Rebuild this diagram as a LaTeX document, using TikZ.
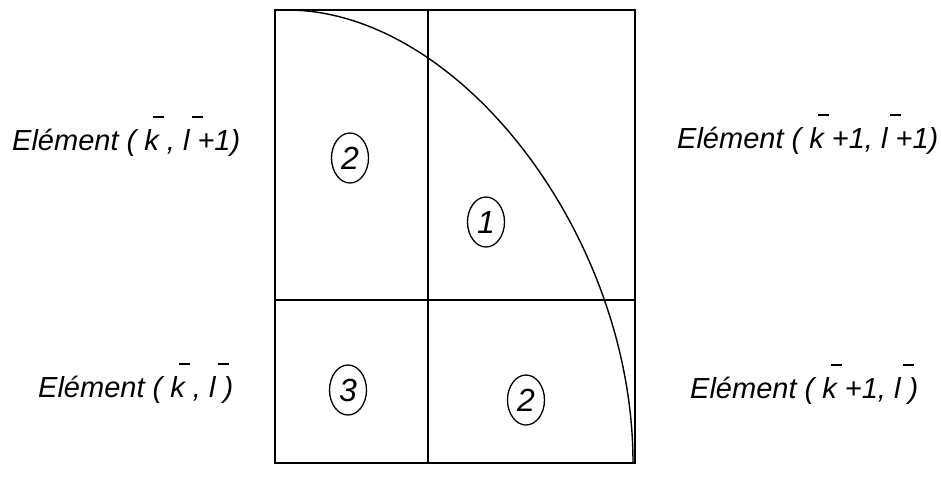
\documentclass[tikz,border=0pt]{standalone}
\usepackage{fontspec}
\setmainfont{Liberation Sans}
\usetikzlibrary{shapes.geometric}
\newcommand\obar[1]{\rlap{\hspace{0.3em}\raisebox{1.12em}{\rule{0.38em}{0.065em}}}#1}
\tikzset{
  frame/.style={line width=1.8pt},
  grid/.style={line width=1.5pt},
  arcline/.style={line width=1.4pt},
  circnum/.style={draw, ellipse, line width=1.3pt, minimum width=37pt, minimum height=50pt, inner sep=0pt,
    font=\fontsize{32}{32}\selectfont\itshape},
  elem/.style={anchor=base west, inner sep=0pt, font=\fontsize{29}{30}\selectfont\itshape}
}
\begin{document}
\begin{tikzpicture}[x=1pt,y=-1pt]
\useasboundingbox[fill=white] (0,0) rectangle (941,493);
% grid
\draw[frame] (275,10) rectangle (635,463);
\draw[grid] (428,10) -- (428,463);
\draw[grid] (275,300) -- (635,300);
% arc
\draw[arcline] (287,10) .. controls (460,10) and (633,236.5) .. (633,463);
% numbers
\node[circnum] (c2a) at (350,158) {2};
\node[circnum] (c1) at (486,222) {1};
\node[circnum] (c3) at (348,390) {3};
\node[circnum] (c2b) at (526,400) {2};
% labels
\node[elem] (tl) at (12,150) {Elément ( \obar{k} , \obar{l} +1)};
\node[elem] (tr) at (677,148) {Elément ( \obar{k} +1, \obar{l} +1)};
\node[elem] (bl) at (38,397) {Elément ( \obar{k} , \obar{l} )};
\node[elem] (br) at (690,398) {Elément ( \obar{k} +1, \obar{l} )};
\end{tikzpicture}
\end{document}
